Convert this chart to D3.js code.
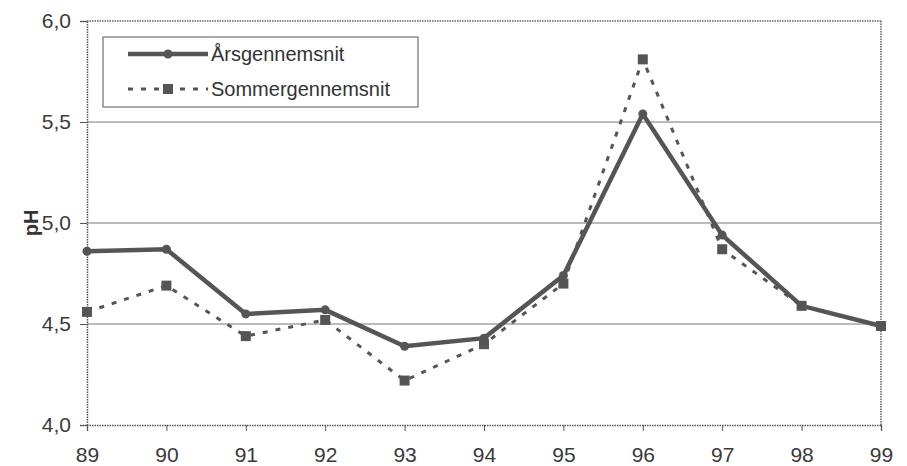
<!DOCTYPE html>
<html><head><meta charset="utf-8">
<script src="https://cdn.jsdelivr.net/npm/d3@7"></script>
<style>body{margin:0;background:#fff}svg{display:block}</style>
</head><body>
<script>
const years = ["89","90","91","92","93","94","95","96","97","98","99"];
const aarsValues = [4.86,4.87,4.55,4.57,4.39,4.43,4.74,5.54,4.94,4.59,4.49];
const sommerValues = [4.56,4.69,4.44,4.52,4.22,4.40,4.70,5.81,4.87,4.59,4.49];
const yTicks = [4.0,4.5,5.0,5.5,6.0];
const seriesNames = ["Årsgennemsnit","Sommergennemsnit"];

const W=907,H=466;
const m={l:87,r:26,t:21,b:41};
const svg=d3.select("body").append("svg").attr("width",W).attr("height",H);
const x=d3.scalePoint().domain(years).range([m.l,W-m.r]);
const y=d3.scaleLinear().domain([4,6]).range([H-m.b,m.t]);
const font="Arial, 'Liberation Sans', sans-serif";
const col="#555";
const fs=20;

// gridlines
svg.append("g").selectAll("line").data(yTicks.filter(v=>v>4&&v<6)).join("line")
 .attr("x1",m.l).attr("x2",W-m.r).attr("y1",d=>y(d)).attr("y2",d=>y(d))
 .attr("stroke","#777").attr("stroke-width",1);
// border top/right dotted
const bd=svg.append("g").attr("stroke","#666").attr("stroke-width",1.5).attr("stroke-dasharray","1.5,1");
bd.append("line").attr("x1",m.l).attr("x2",W-m.r).attr("y1",m.t).attr("y2",m.t);
bd.append("line").attr("x1",W-m.r).attr("x2",W-m.r).attr("y1",m.t).attr("y2",H-m.b);

// axes
const ya=svg.append("g").attr("transform",`translate(${m.l},0)`)
 .call(d3.axisLeft(y).tickValues(yTicks).tickSize(7).tickPadding(9).tickFormat(d=>d3.format(".1f")(d).replace(".",",")));
const xa=svg.append("g").attr("transform",`translate(0,${H-m.b})`)
 .call(d3.axisBottom(x).tickSize(6).tickPadding(16));
[ya,xa].forEach(a=>{a.attr("font-size",21).attr("font-family",font);
 a.select(".domain").attr("stroke","#555").attr("stroke-width",1.5).attr("stroke-dasharray","1.5,1");
 a.selectAll(".tick line").attr("stroke","#555");
 a.selectAll("text").attr("fill","#3a3a3a");});

svg.append("text").attr("transform",`translate(38,${(m.t+H-m.b)/2}) rotate(-90)`)
 .attr("text-anchor","middle").attr("font-family",font).attr("font-size",fs).attr("font-weight","bold").attr("fill","#333").text("pH");

const line=d3.line().x((d,i)=>x(years[i])).y(d=>y(d));
// sommer
svg.append("path").datum(sommerValues).attr("d",line).attr("fill","none").attr("stroke",col).attr("stroke-width",3).attr("stroke-dasharray","5,8");
svg.append("g").selectAll("rect").data(sommerValues).join("rect")
 .attr("x",(d,i)=>x(years[i])-5).attr("y",d=>y(d)-5).attr("width",10).attr("height",10).attr("fill",col);
// aars
svg.append("path").datum(aarsValues).attr("d",line).attr("fill","none").attr("stroke",col).attr("stroke-width",4.5);
svg.append("g").selectAll("circle").data(aarsValues).join("circle")
 .attr("cx",(d,i)=>x(years[i])).attr("cy",d=>y(d)).attr("r",4.5).attr("fill",col);

// legend
const lg=svg.append("g");
lg.append("rect").attr("x",103).attr("y",37).attr("width",315).attr("height",70).attr("fill","#fff").attr("stroke","#555").attr("stroke-width",1);
lg.append("line").attr("x1",128).attr("x2",208).attr("y1",54).attr("y2",54).attr("stroke",col).attr("stroke-width",4.5);
lg.append("circle").attr("cx",168).attr("cy",54).attr("r",4.5).attr("fill",col);
lg.append("line").attr("x1",128).attr("x2",208).attr("y1",89).attr("y2",89).attr("stroke",col).attr("stroke-width",3).attr("stroke-dasharray","5,8");
lg.append("rect").attr("x",163).attr("y",84).attr("width",10).attr("height",10).attr("fill",col);
lg.selectAll("text.l").data(seriesNames).join("text").attr("class","l")
 .attr("x",211).attr("y",(d,i)=>54+i*35).attr("dy","0.35em")
 .attr("font-family",font).attr("font-size",fs).attr("fill","#333").text(d=>d);
</script>
</body></html>
